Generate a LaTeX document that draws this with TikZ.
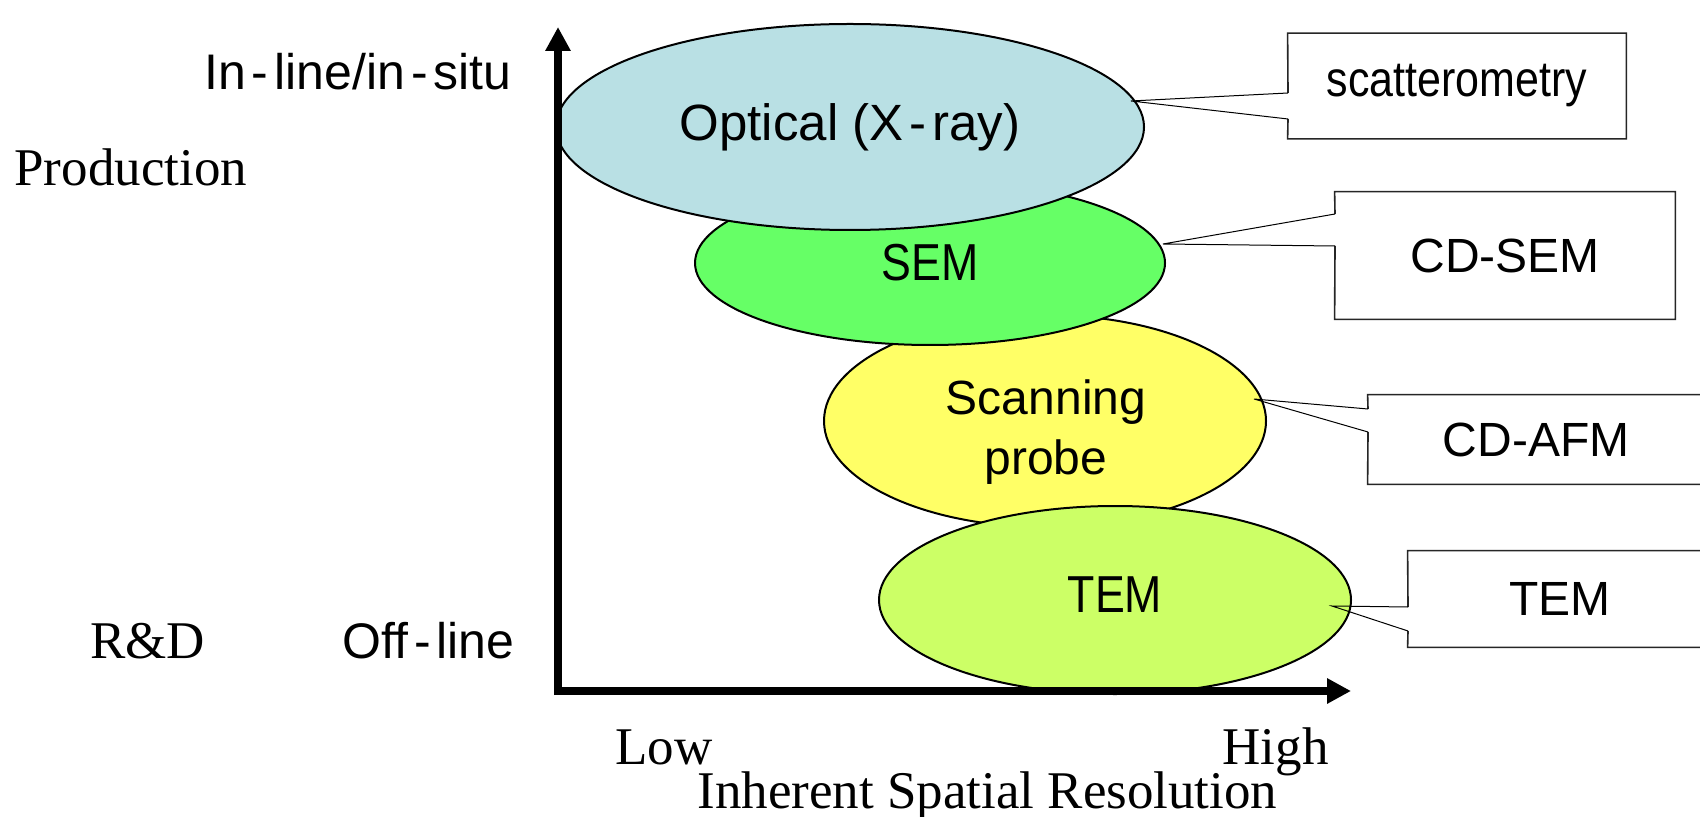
\documentclass[tikz,border=0pt]{standalone}
\usepackage{fontspec}
\newfontfamily\sansf{Liberation Sans}
\newfontfamily\sansn[FakeStretch=0.86]{Liberation Sans}
\newfontfamily\seriff{Liberation Serif}
\usetikzlibrary{shapes.geometric,arrows.meta}
\definecolor{optc}{RGB}{185,224,228}
\definecolor{semc}{RGB}{102,255,102}
\definecolor{spmc}{RGB}{255,255,102}
\definecolor{temc}{RGB}{204,255,102}
\begin{document}
\begin{tikzpicture}[x=0.5pt,y=-0.5pt,
  blob/.style={ellipse, draw=black, line width=1pt, inner sep=0pt, align=center, font=\sansf\fontsize{24pt}{31pt}\selectfont},
  blobtext/.style={inner sep=0pt, align=center, font=\sansf\fontsize{24pt}{30pt}\selectfont},
  calbox/.style={rectangle, inner sep=0pt, font=\sansf\fontsize{24pt}{29pt}\selectfont},
  boxline/.style={draw=black!85, line width=0.8pt},
  tail/.style={draw=black, line width=0.5pt},
  axisline/.style={line width=4pt, -{Triangle[length=12pt,width=12pt]}},
  ser/.style={font=\seriff\fontsize{26.5pt}{32pt}\selectfont, inner sep=0pt},
  san/.style={font=\sansf\fontsize{25pt}{30pt}\selectfont, inner sep=0pt}]
\useasboundingbox (0,0) rectangle (1700,817);
\clip (0,0) rectangle (1700,817);
\fill[white] (0,0) rectangle (1700,817);

% ellipses (back to front)
\node[blob, fill=spmc, minimum width=221pt, minimum height=106pt] (spm) at (1045,421) {};
\node[blobtext] (spmtext) at (1046,432) {Scanning\\probe};
\node[blob, fill=temc, minimum width=236pt, minimum height=94pt] (tem) at (1115,600) {};
\node[blobtext, font=\sansn\fontsize{26pt}{30pt}\selectfont] (temtext) at (1115,595) {TEM};
\node[blob, fill=semc, minimum width=235pt, minimum height=82pt, font=\sansn\fontsize{26pt}{30pt}\selectfont] (sem) at (930,263) {SEM};
\node[blob, fill=optc, minimum width=294pt, minimum height=103pt, font=\sansf\fontsize{25.5pt}{30pt}\selectfont] (opt) at (850,127) {Optical (X\kern3pt-\kern3pt ray)};

% callout boxes
\node[calbox, minimum width=169pt, minimum height=52.5pt, font=\sansn\fontsize{25pt}{29pt}\selectfont] (scat) at (1457,86) {scatterometry};
\coordinate (scatT) at (1131,101);
\coordinate (scatA) at (1288,93);
\coordinate (scatB) at (1288,119);
\draw[boxline] (scatA) -- (scat.north west) -- (scat.north east) -- (scat.south east) -- (scat.south west) -- (scatB);
\draw[tail] (scatA) -- (scatT) -- (scatB);

\node[calbox, minimum width=170pt, minimum height=63.5pt] (cdsem) at (1505,255.5) {CD-SEM};
\coordinate (cdsemT) at (1163,244);
\coordinate (cdsemA) at (1335,214);
\coordinate (cdsemB) at (1335,246);
\draw[boxline] (cdsemA) -- (cdsem.north west) -- (cdsem.north east) -- (cdsem.south east) -- (cdsem.south west) -- (cdsemB);
\draw[tail] (cdsemA) -- (cdsemT) -- (cdsemB);

\node[calbox, minimum width=168pt, minimum height=44.5pt] (cdafm) at (1536,439.5) {CD-AFM};
\coordinate (cdafmT) at (1254,399);
\coordinate (cdafmA) at (1368,409);
\coordinate (cdafmB) at (1368,432);
\draw[boxline] (cdafmA) -- (cdafm.north west) -- (cdafm.north east) -- (cdafm.south east) -- (cdafm.south west) -- (cdafmB);
\draw[tail] (cdafmA) -- (cdafmT) -- (cdafmB);

\node[calbox, minimum width=152pt, minimum height=48pt] (tembox) at (1560,599) {TEM};
\coordinate (tembT) at (1332,606);
\coordinate (tembA) at (1408,607);
\coordinate (tembB) at (1408,631);
\draw[boxline] (tembA) -- (tembox.north west) -- (tembox.north east) -- (tembox.south east) -- (tembox.south west) -- (tembB);
\draw[tail] (tembA) -- (tembT) -- (tembB);

% axes
\coordinate (origV) at (558,695);
\coordinate (topV) at (558,27);
\coordinate (origH) at (554,691);
\coordinate (endH) at (1351,691);
\draw[axisline] (origV) -- (topV);
\draw[axisline] (origH) -- (endH);

% axis labels
\node[san, anchor=base east] (inline) at (512,90) {In\kern3pt-\kern3pt line/in\kern3pt-\kern3pt situ};
\node[san, anchor=base east] (offline) at (515,658) {Off\kern3pt-\kern3pt line};
\node[ser, anchor=base west] (prod) at (14,186) {Production};
\node[ser, anchor=base west] (rd) at (90,658) {R\&D};
\node[ser, anchor=base west] (low) at (615,764) {Low};
\node[ser, anchor=base east] (high) at (1329,764) {High};
\node[ser, anchor=base west] (isr) at (697,808) {Inherent Spatial Resolution};
\end{tikzpicture}
\end{document}
